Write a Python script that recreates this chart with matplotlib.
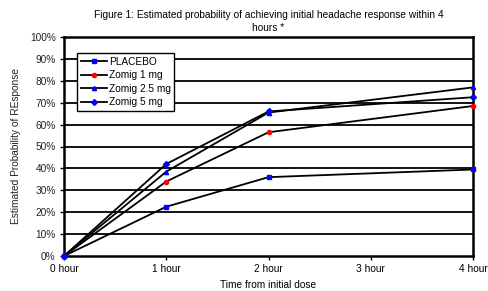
import matplotlib
matplotlib.use("Agg")
import matplotlib.pyplot as plt

hours = [0, 1, 2, 4]
x_ticks = [0, 1, 2, 3, 4]
x_labels = ["0 hour", "1 hour", "2 hour", "3 hour", "4 hour"]
placebo = [0, 22.5, 36, 39.5]
zomig1 = [0, 34, 56.5, 68.5]
zomig25 = [0, 38.5, 65.5, 77]
zomig5 = [0, 42, 66, 72.5]
series = [
    ("PLACEBO", placebo, "s", "#0000ff"),
    ("Zomig 1 mg", zomig1, "o", "#ff0000"),
    ("Zomig 2.5 mg", zomig25, "^", "#0000ff"),
    ("Zomig 5 mg", zomig5, "D", "#0000ff"),
]

plt.rcParams['font.family'] = ['Liberation Sans', 'DejaVu Sans']
fs = 7.3
fig = plt.figure(figsize=(4.88, 2.91), dpi=100)
ax = fig.add_axes([64/488, 1-256/291, (473-64)/488, (256-37)/291])

for y in range(10, 101, 10):
    ax.axhline(y, color="black", lw=1.3, zorder=1)

for name, vals, m, c in series:
    ax.plot(hours, vals, color="black", lw=1.3, marker=m, markersize=3.0,
            markerfacecolor=c, markeredgecolor=c, label=name, zorder=3, clip_on=False)

ax.set_xlim(0, 4)
ax.set_ylim(0, 100)
ax.set_xticks(x_ticks)
ax.set_xticklabels(x_labels, fontsize=fs)
ax.set_yticks(range(0, 101, 10))
ax.set_yticklabels([f"{v}%" for v in range(0, 101, 10)], fontsize=fs, color="#222222")
ax.tick_params(direction="out", length=3, width=1, color="black", pad=3)
for s in ax.spines.values():
    s.set_linewidth(1.8)
    s.set_color("black")

ax.set_xlabel("Time from initial dose", fontsize=fs, labelpad=4)
ax.set_ylabel("Estimated Probability of REsponse", fontsize=fs, color="#222222", labelpad=6)
fig.text(0.55, 0.965, "Figure 1: Estimated probability of achieving initial headache response within 4\nhours *",
         ha="center", va="top", fontsize=fs, linespacing=1.3)

leg = ax.legend(loc="upper left", bbox_to_anchor=(13/409, (219-16)/219), fontsize=fs,
                frameon=True, fancybox=False, edgecolor="black", framealpha=1,
                handlelength=2.6, handletextpad=0.2, borderpad=0.35, labelspacing=0.35,
                borderaxespad=0)
leg.get_frame().set_linewidth(1.0)

fig.savefig("out.png", dpi=100)
